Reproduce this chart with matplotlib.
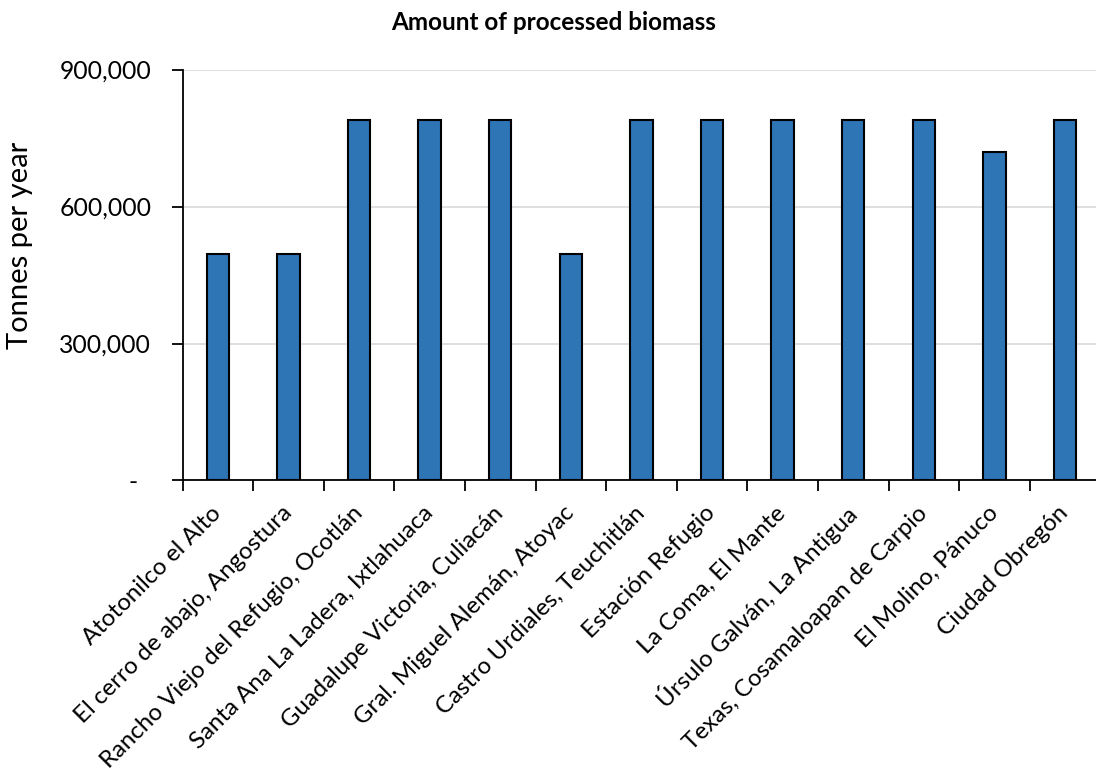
import matplotlib
matplotlib.use("Agg")
import matplotlib.pyplot as plt
from matplotlib.ticker import FuncFormatter, FixedLocator
import numpy as np

plt.rcParams['font.family'] = ['Lato', 'DejaVu Sans']

sites = [
    "Atotonilco el Alto",
    "El cerro de abajo, Angostura",
    "Rancho Viejo del Refugio, Ocotlán",
    "Santa Ana La Ladera, Ixtlahuaca",
    "Guadalupe Victoria, Culiacán",
    "Gral. Miguel Alemán, Atoyac",
    "Castro Urdiales, Teuchitlán",
    "Estación Refugio",
    "La Coma, El Mante",
    "Úrsulo Galván, La Antigua",
    "Texas, Cosamaloapan de Carpio",
    "El Molino, Pánuco",
    "Ciudad Obregón",
]
biomass = [495000, 495000, 790000, 790000, 790000, 495000, 790000,
           790000, 790000, 790000, 790000, 720000, 790000]
y_ticks = [0, 300000, 600000, 900000]

W, H = 1096, 773
fig = plt.figure(figsize=(W / 100, H / 100), dpi=100)
ax_left, ax_right, ax_top, ax_bottom = 182.5, 1100.3, 69.5, 480.5
ax = fig.add_axes([ax_left / W, 1 - ax_bottom / H,
                   (ax_right - ax_left) / W, (ax_bottom - ax_top) / H])

n = len(sites)
x = np.arange(n) + 0.5
ax.bar(x, biomass, width=0.32, color='#2E75B6', edgecolor='black',
       linewidth=1.5, zorder=3)

ax.set_xlim(0, n)
ax.set_ylim(0, 900000)

ax.yaxis.set_major_locator(FixedLocator(y_ticks))
ax.yaxis.set_major_formatter(FuncFormatter(
    lambda v, p: "-  " if v == 0 else f"{int(v):,}"))
ax.grid(axis='y', color='#d9d9d9', linewidth=1.2, zorder=0)
ax.set_axisbelow(True)

ax.set_xticks(x)
ax.set_xticklabels(sites, rotation=45, ha='right', va='center',
                   rotation_mode='anchor', fontsize=17.3)
ax.set_xticks(np.arange(n + 1), minor=True)
ax.tick_params(axis='x', which='major', length=0, pad=21)
ax.tick_params(axis='x', which='minor', length=8, width=1.3,
               direction='out', color='black')
ax.tick_params(axis='y', length=8, width=1.3, direction='out',
               labelsize=17.8, pad=14.5)

for side in ('top', 'right'):
    ax.spines[side].set_visible(False)
for side in ('left', 'bottom'):
    ax.spines[side].set_linewidth(1.3)
    ax.spines[side].set_color('black')

ax.set_ylabel("Tonnes per year", fontsize=21)
ax.yaxis.set_label_coords((33 - ax_left) / (ax_right - ax_left),
                          (ax_bottom - 245) / (ax_bottom - ax_top))

fig.text(553.5 / W, 1 - 22 / H, "Amount of processed biomass",
         ha='center', va='center', fontsize=17.5, fontweight='bold')

fig.savefig("out.png", dpi=100, facecolor='white')
